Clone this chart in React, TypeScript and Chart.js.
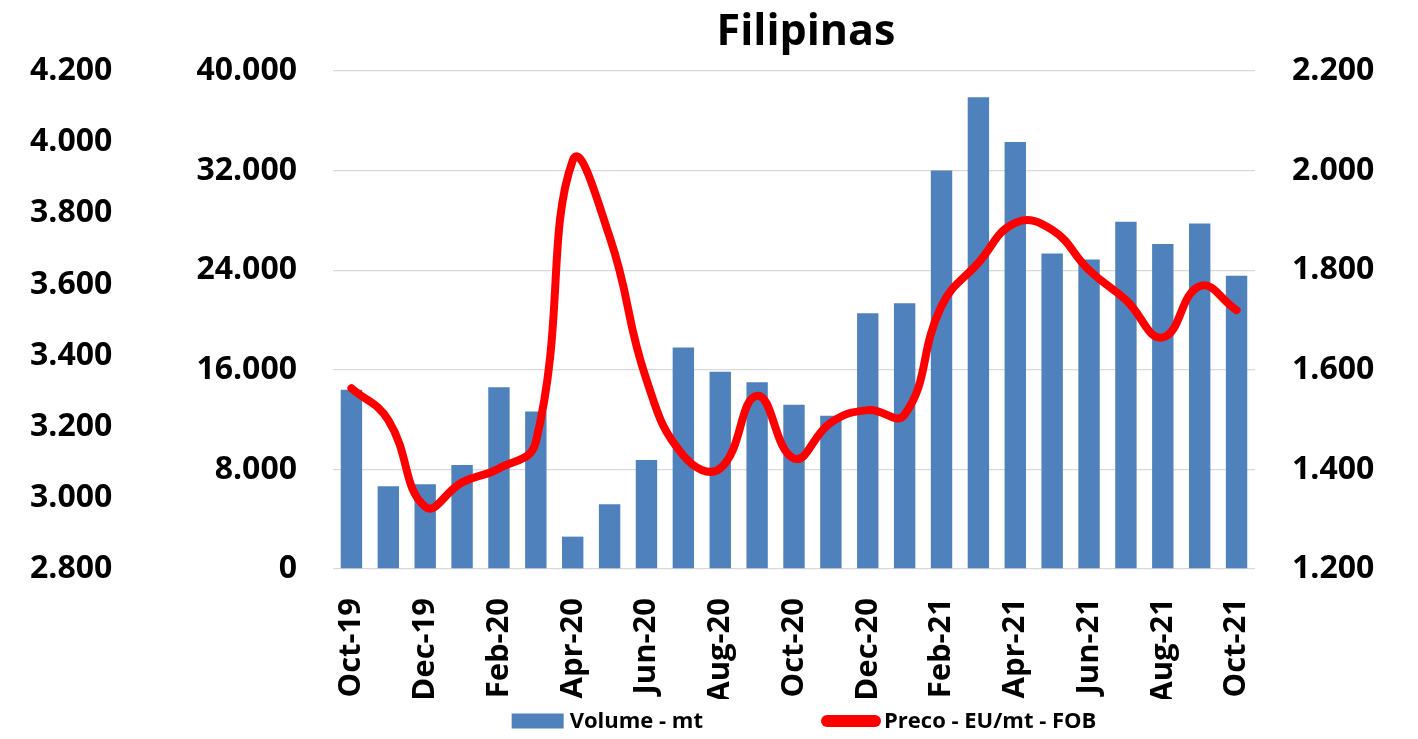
import React, { useEffect, useRef } from "react";
import { Chart, registerables } from "chart.js";

Chart.register(...registerables);

const months = [
  "Oct-19", "Nov-19", "Dec-19", "Jan-20", "Feb-20", "Mar-20", "Apr-20", "May-20", "Jun-20",
  "Jul-20", "Aug-20", "Sep-20", "Oct-20", "Nov-20", "Dec-20", "Jan-21", "Feb-21", "Mar-21",
  "Apr-21", "May-21", "Jun-21", "Jul-21", "Aug-21", "Sep-21", "Oct-21",
];

const volumeMt = [
  14400, 6650, 6800, 8350, 14600, 12650, 2600, 5200, 8750, 17800, 15850, 15000, 13200,
  12300, 20550, 21350, 32000, 37900, 34300, 25350, 24850, 27900, 26100, 27750, 23550,
];

const precoEurMtFob = [
  1563, 1499, 1325, 1374, 1402, 1455, 2020, 1867, 1580, 1428, 1402, 1548, 1422,
  1494, 1519, 1510, 1728, 1815, 1895, 1881, 1800, 1740, 1665, 1768, 1720,
];

const titleText = "Filipinas";
const volumeLabel = "Volume - mt";
const precoLabel = "Preco - EU/mt - FOB";

const BLUE = "#4f81bd";
const RED = "#ff0000";
const FONT = "'Open Sans', 'Noto Sans', sans-serif";

const fmt = (v: number) =>
  String(Math.round(v)).replace(/\B(?=(\d{3})+(?!\d))/g, ".");

const overlayPlugin = {
  id: "overlay",
  afterDraw(chart: any) {
    const { ctx, chartArea } = chart;
    const cx = (chartArea.left + chartArea.right) / 2;
    ctx.save();
    // title
    ctx.fillStyle = "#000";
    ctx.font = `bold 43px ${FONT}`;
    ctx.textAlign = "center";
    ctx.textBaseline = "alphabetic";
    ctx.fillText(titleText, cx + 12, 37);

    // legend
    ctx.font = `bold 22px ${FONT}`;
    const w1 = ctx.measureText(volumeLabel).width;
    const w2 = ctx.measureText(precoLabel).width;
    const boxW = 52, pillW = 60, gapBox = 6, gapItems = 118, gapPill = 3;
    const total = boxW + gapBox + w1 + gapItems + pillW + gapPill + w2;
    let x = cx + 10 - total / 2;
    const yc = chartArea.bottom + 152;
    ctx.fillStyle = BLUE;
    ctx.fillRect(x, yc - 7.5, boxW, 15);
    x += boxW + gapBox;
    ctx.fillStyle = "#000";
    ctx.textAlign = "left";
    ctx.textBaseline = "middle";
    ctx.fillText(volumeLabel, x, yc + 1);
    x += w1 + gapItems;
    ctx.strokeStyle = RED;
    ctx.lineWidth = 12;
    ctx.lineCap = "round";
    ctx.beginPath();
    ctx.moveTo(x + 6, yc);
    ctx.lineTo(x + pillW - 6, yc);
    ctx.stroke();
    x += pillW + gapPill;
    ctx.fillText(precoLabel, x, yc + 1);
    ctx.restore();
  },
};

export default function App() {
  const canvasRef = useRef<HTMLCanvasElement | null>(null);

  useEffect(() => {
    if (!canvasRef.current) return;
    Chart.defaults.font.family = FONT;
    const tickFont = { family: FONT, size: 32, weight: "bold" as const };
    const chart = new Chart(canvasRef.current, {
      type: "bar",
      data: {
        labels: months,
        datasets: [
          {
            type: "line",
            label: precoLabel,
            data: precoEurMtFob,
            yAxisID: "y1",
            borderColor: RED,
            backgroundColor: RED,
            borderWidth: 8,
            pointRadius: 0,
            tension: 0.45,
            order: 0,
            borderCapStyle: "round",
            borderJoinStyle: "round",
          } as any,
          {
            type: "bar",
            label: volumeLabel,
            data: volumeMt,
            yAxisID: "y",
            backgroundColor: BLUE,
            barPercentage: 0.58,
            categoryPercentage: 1,
            order: 1,
          },
        ],
      },
      options: {
        animation: false,
        responsive: true,
        maintainAspectRatio: false,
        layout: { padding: { top: 63, bottom: 40, left: 22, right: 0 } },
        plugins: {
          legend: { display: false },
          title: { display: false },
          tooltip: { enabled: false },
        },
        scales: {
          x: {
            grid: { display: false, drawTicks: false },
            border: { display: false },
            ticks: {
              autoSkip: false,
              minRotation: 90,
              maxRotation: 90,
              padding: 29,
              color: "#000",
              font: { family: FONT, size: 31, weight: "bold" },
              callback: (_v: any, i: number) => (i % 2 === 0 ? months[i] : ""),
            },
            afterFit: (s: any) => {
              s.height = 130;
            },
          },
          y: {
            position: "left",
            weight: 0,
            min: 0,
            max: 40000,
            grid: { color: "#d9d9d9", lineWidth: 1.3, drawTicks: false },
            border: { display: false },
            ticks: {
              stepSize: 8000,
              padding: 36,
              color: "#000",
              font: tickFont,
              callback: (v: any) => fmt(Number(v)),
            },
            afterFit: (s: any) => {
              s.width = 138;
            },
          },
          y3: {
            position: "left",
            weight: 1,
            min: 2800,
            max: 4200,
            grid: { display: false, drawTicks: false },
            border: { display: false },
            ticks: {
              stepSize: 200,
              padding: 0,
              crossAlign: "far",
              color: "#000",
              font: tickFont,
              callback: (v: any) => fmt(Number(v)),
            },
            afterFit: (s: any) => {
              s.width = 165;
            },
          },
          y1: {
            position: "right",
            min: 1200,
            max: 2200,
            grid: { display: false, drawTicks: false },
            border: { display: false },
            ticks: {
              stepSize: 200,
              padding: 37,
              color: "#000",
              font: tickFont,
              callback: (v: any) => fmt(Number(v)),
            },
            afterFit: (s: any) => {
              s.width = 155;
            },
          },
        },
      },
      plugins: [overlayPlugin],
    });
    return () => chart.destroy();
  }, []);

  return (
    <div style={{ position: "relative", width: 1402, height: 731, marginBottom: -8 }}>
      <canvas ref={canvasRef} />
    </div>
  );
}
